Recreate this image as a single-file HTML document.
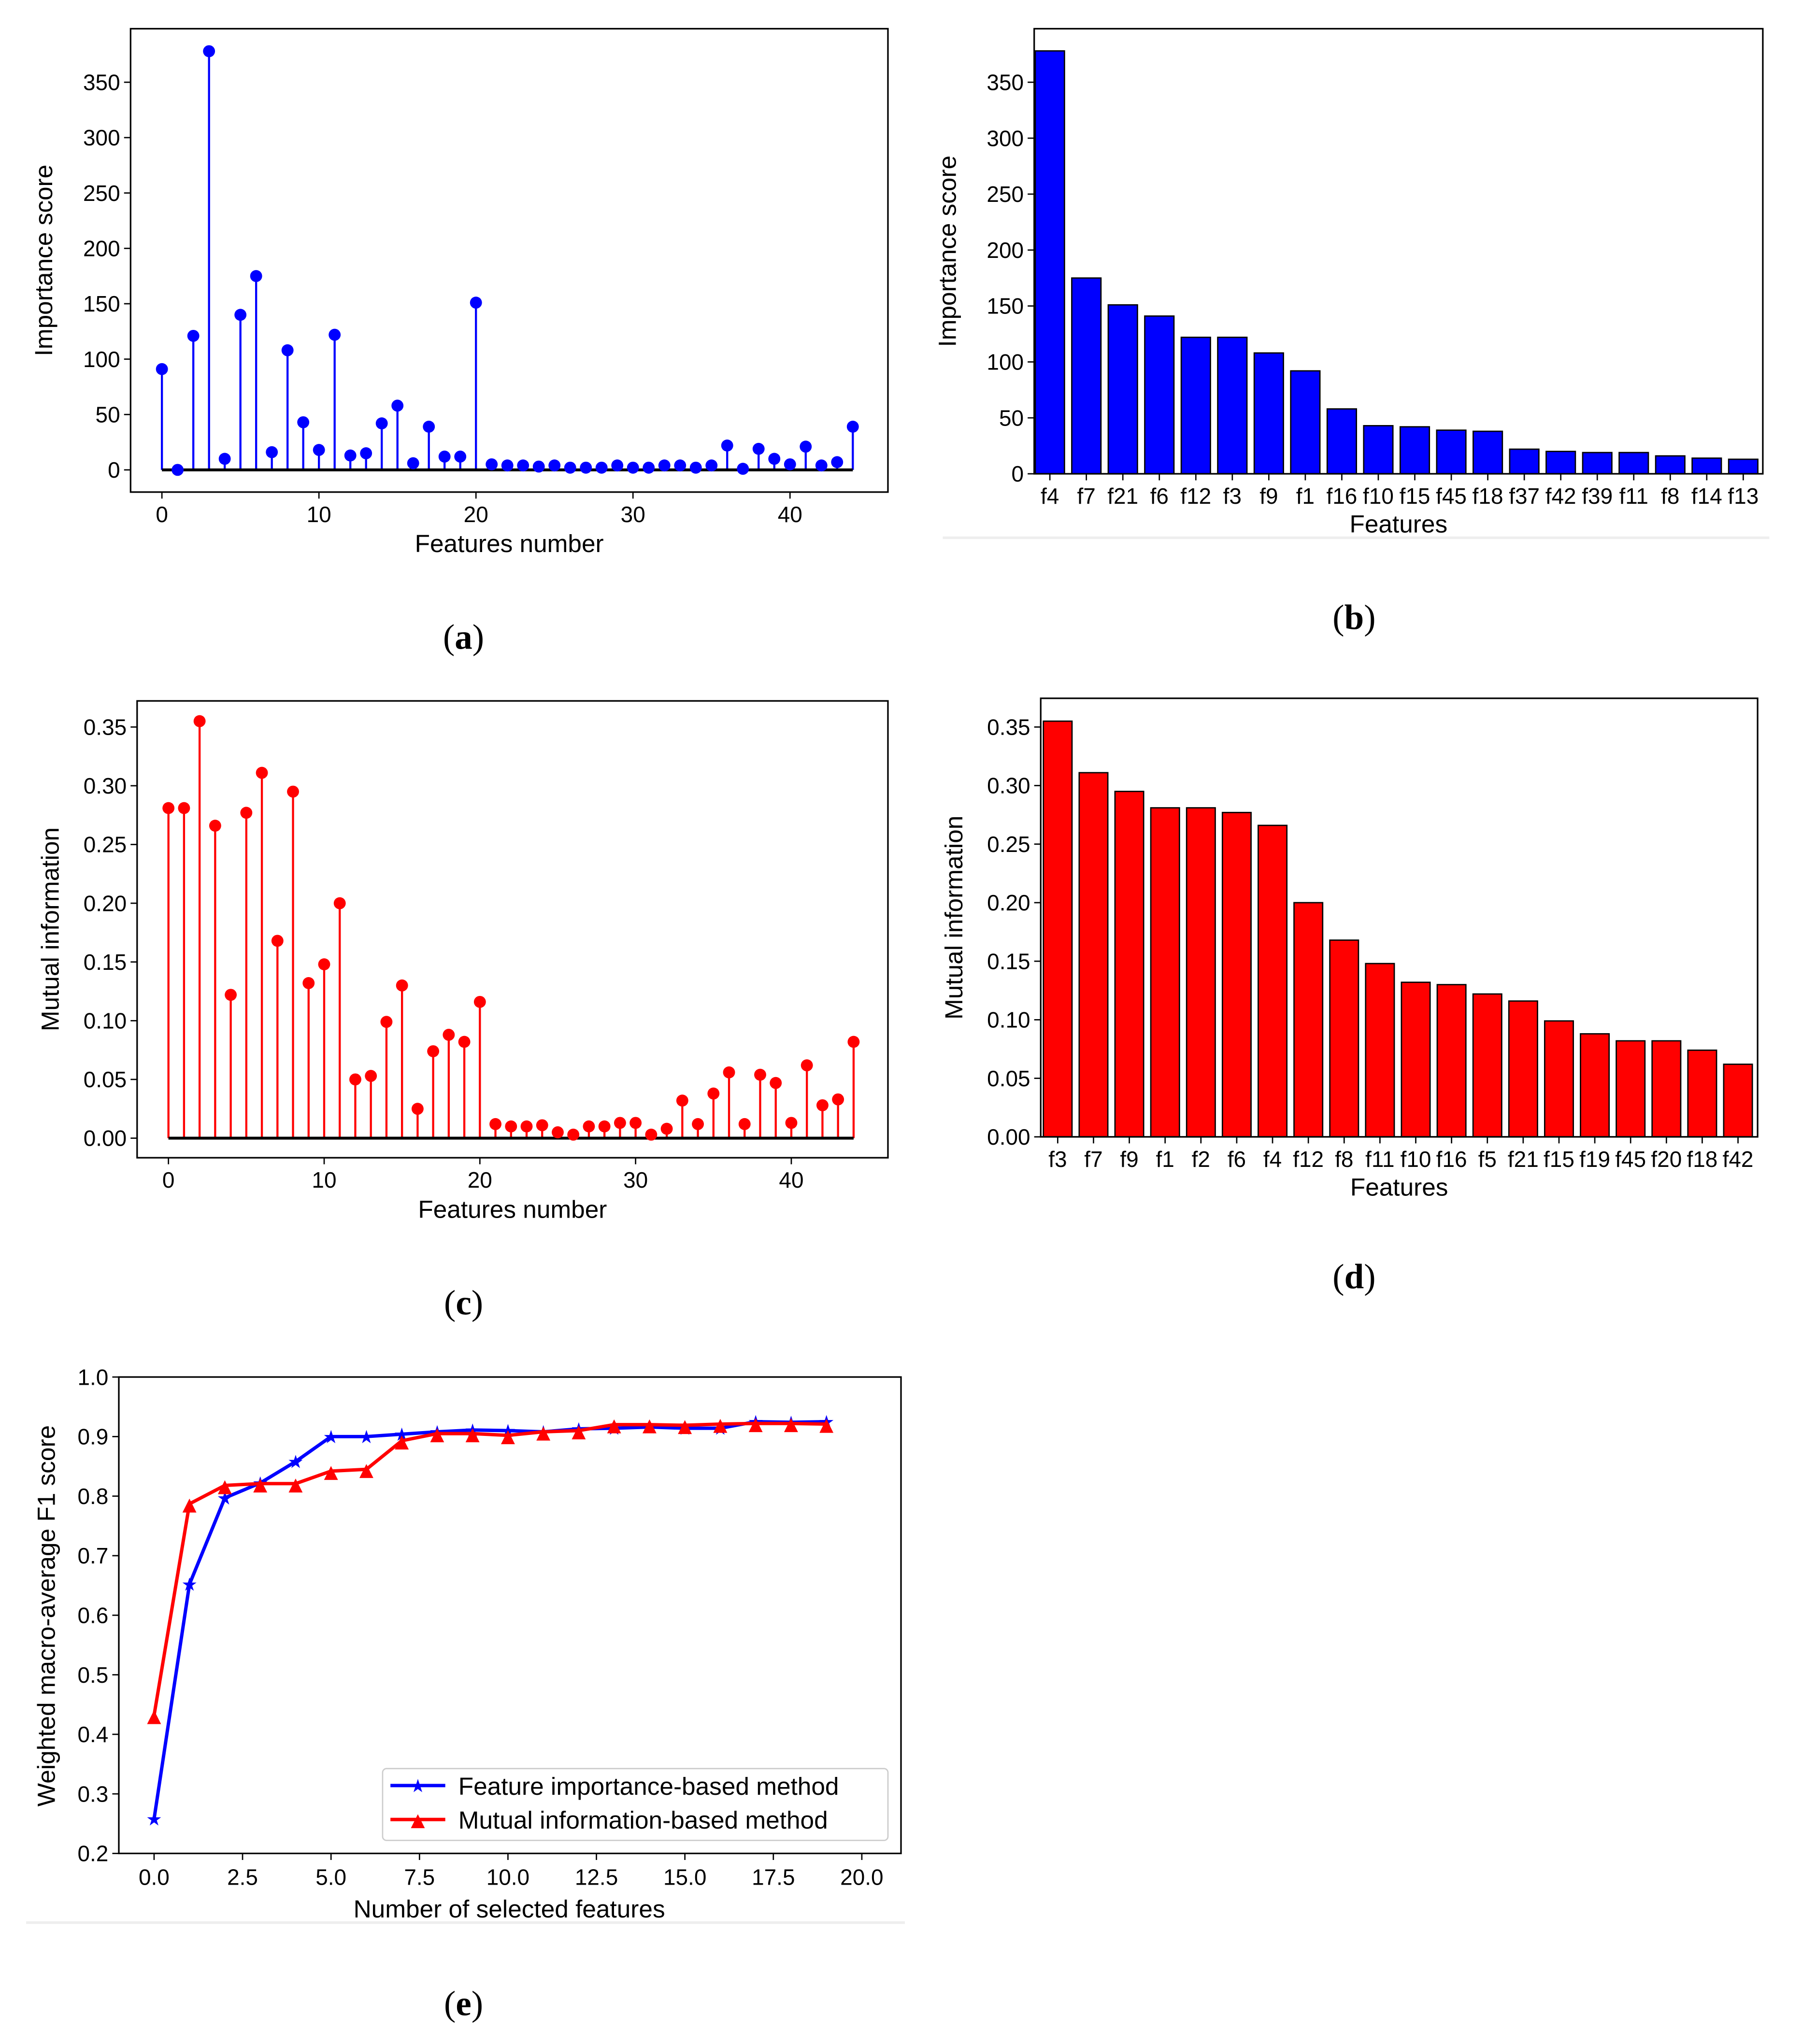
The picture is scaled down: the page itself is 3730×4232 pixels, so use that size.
<!DOCTYPE html>
<html><head><meta charset="utf-8">
<style>
html,body{margin:0;padding:0;background:#fff;}
svg{display:block;}
text{font-family:"Liberation Sans Narrow","Liberation Sans",sans-serif;fill:#000;}
.tk{font-size:17px;}
.ttl{font-family:"Liberation Sans",sans-serif;font-size:19px;}
.lbl{font-family:"Liberation Serif",serif;font-size:27px;}
</style></head>
<body>
<svg id="fig" width="3730" height="4232" viewBox="0 0 1380 1566" preserveAspectRatio="none" xmlns="http://www.w3.org/2000/svg"></svg>
<script>
const aValues=[91,0,121,378,10,140,175,16,108,43,18,122,13,15,42,58,6,39,12,12,151,5,4,4,3,4,2,2,2,4,2,2,4,4,2,4,22,1,19,10,5,21,4,7,39];
const bCats=["f4","f7","f21","f6","f12","f3","f9","f1","f16","f10","f15","f45","f18","f37","f42","f39","f11","f8","f14","f13"];
const bValues=[378,175,151,141,122,122,108,92,58,43,42,39,38,22,20,19,19,16,14,13];
const cValues=[.281,.281,.355,.266,.122,.277,.311,.168,.295,.132,.148,.200,.050,.053,.099,.130,.025,.074,.088,.082,.116,.012,.010,.010,.011,.005,.003,.010,.010,.013,.013,.003,.008,.032,.012,.038,.056,.012,.054,.047,.013,.062,.028,.033,.082];
const dCats=["f3","f7","f9","f1","f2","f6","f4","f12","f8","f11","f10","f16","f5","f21","f15","f19","f45","f20","f18","f42"];
const dValues=[.355,.311,.295,.281,.281,.277,.266,.200,.168,.148,.132,.130,.122,.116,.099,.088,.082,.082,.074,.062];
const eBlue=[.258,.652,.797,.822,.858,.900,.900,.904,.908,.911,.910,.908,.913,.914,.916,.914,.914,.925,.924,.925];
const eRed=[.432,.787,.818,.821,.821,.842,.845,.893,.905,.905,.902,.908,.910,.920,.920,.919,.921,.922,.922,.921];
const aYTicks=[0,50,100,150,200,250,300,350];
const cYTicks=[0,.05,.10,.15,.20,.25,.30,.35];
const stemXTicks=[0,10,20,30,40];
const eYTicks=[.2,.3,.4,.5,.6,.7,.8,.9,1.0];
const eXTicks=[0,2.5,5,7.5,10,12.5,15,17.5,20];

const NS="http://www.w3.org/2000/svg";
const svg=document.getElementById('fig');
function el(tag,attrs,parent,txt){const e=document.createElementNS(NS,tag);for(const k in attrs)e.setAttribute(k,attrs[k]);if(txt!==undefined)e.textContent=txt;(parent||svg).appendChild(e);return e;}
function lin(d0,d1,r0,r1){return v=>r0+(v-d0)*(r1-r0)/(d1-d0);}

function frame(g,x0,y0,x1,y1){const r=el('rect',{x:x0,y:y0,width:x1-x0,height:y1-y0,fill:'none',stroke:'#000','stroke-width':1.2},g);

}
function yticks(g,ticks,ys,xl,fmt){ticks.forEach(t=>{const y=ys(t);el('line',{x1:xl-5,x2:xl,y1:y,y2:y,stroke:'#000'},g);
const tx=el('text',{x:xl-8,y:y+6,'text-anchor':'end',class:'tk'},g,fmt(t));

});}
function xticks(g,ticks,xs,yb,ly,fmt){ticks.forEach(t=>{const x=xs(t);el('line',{x1:x,x2:x,y1:yb,y2:yb+5,stroke:'#000'},g);
const tx=el('text',{x:x,y:ly,'text-anchor':'middle',class:'tk'},g,fmt(t));

});}
function title(g,txt,x,y,rot,name){const t=el('text',{x:x,y:y,'text-anchor':'middle',class:'ttl',transform:rot?`rotate(-90 ${x} ${y})`:''},g,txt);

}
function panelLabel(letter,x,y,name){const t=el('text',{x:x,y:y,'text-anchor':'middle',class:'lbl'},svg);


el('tspan',{},t,'(');el('tspan',{'font-weight':'bold'},t,letter);el('tspan',{},t,')');}

function stem(name,vals,color,box,xr,yr,yt,fmt,ytitle){
 const g=el('g',{});
 
 
 const xs=lin(0,40,xr[0],xr[1]), ys=lin(0,yr[2],yr[0],yr[1]);
 frame(g,...box);
 yticks(g,yt,ys,box[0],fmt);
 xticks(g,stemXTicks,xs,box[3],box[3]+23,v=>v);
 vals.forEach((v,i)=>{const l=el('line',{x1:xs(i),x2:xs(i),y1:ys(0),y2:ys(v),stroke:color,'stroke-width':1.6},g);
  
  });
 el('line',{x1:xs(0),x2:xs(vals.length-1),y1:ys(0),y2:ys(0),stroke:'#000','stroke-width':2.2},g);
 vals.forEach((v,i)=>{const c=el('circle',{cx:xs(i),cy:ys(v),r:4.6,fill:color},g);
  
  });
 title(g,'Features number',(box[0]+box[2])/2,box[3]+46,false,'x-axis-title');
 title(g,ytitle,box[0]-60,(box[1]+box[3])/2,true,'y-axis-title');
}
function bars(name,cats,vals,color,box,xr,yr,yt,fmt,ytitle,gl){
 const g=el('g',{});
 
 
 const xs=lin(0,cats.length-1,xr[0],xr[1]), ys=lin(0,yr[2],yr[0],yr[1]);
 const w=(xr[1]-xr[0])/(cats.length-1)*0.8;
 vals.forEach((v,i)=>{const r=el('rect',{x:xs(i)-w/2,y:ys(v),width:w,height:ys(0)-ys(v),fill:color,stroke:'#000','stroke-width':1},g);
  
  });
 frame(g,...box);
 yticks(g,yt,ys,box[0],fmt);
 xticks(g,cats.map((c,i)=>i),xs,box[3],box[3]+23,i=>cats[i]);
 title(g,'Features',(box[0]+box[2])/2,box[3]+45,false,'x-axis-title');
 title(g,ytitle,box[0]-60,(box[1]+box[3])/2,true,'y-axis-title');
 if(gl){const l=el('line',{x1:gl[0],x2:gl[1],y1:gl[2],y2:gl[2],stroke:'#eee','stroke-width':2},svg);
  
  }
}
stem('chart-a-importance-stem',aValues,'#0000ff',[100,22,680,377],[124,605],[360,63,350],aYTicks,v=>v,'Importance score');
panelLabel('a',355,497,'panel-label-a');
bars('chart-b-importance-bars',bCats,bValues,'#0000ff',[792,22,1350,363],[804,1335],[363,63,350],aYTicks,v=>v,'Importance score',[722,1355,412]);
panelLabel('b',1037,482,'panel-label-b');
stem('chart-c-mutual-info-stem',cValues,'#ff0000',[105,537,680,887],[129,606],[872,557,.35],cYTicks,v=>v.toFixed(2),'Mutual information');
panelLabel('c',355,1007,'panel-label-c');
bars('chart-d-mutual-info-bars',dCats,dValues,'#ff0000',[797,535,1346,871],[810,1331],[871,557,.35],cYTicks,v=>v.toFixed(2),'Mutual information',null);
panelLabel('d',1037,987,'panel-label-d');

(function(){
 const g=el('g',{});
 
 
 const box=[91,1055,690,1420];
 const xs=lin(0,20,118,660), ys=lin(.2,1.0,1420,1055);
 frame(g,...box);
 yticks(g,eYTicks,ys,box[0],v=>v.toFixed(1));
 xticks(g,eXTicks,xs,box[3],box[3]+24,v=>v.toFixed(1));
 title(g,'Number of selected features',390,1469,false,'x-axis-title');
 title(g,'Weighted macro-average F1 score',42,1238,true,'y-axis-title');
 function series(vals,color,marker,name){
  const p=el('polyline',{points:vals.map((v,i)=>xs(i)+','+ys(v)).join(' '),fill:'none',stroke:color,'stroke-width':2.6},g);
  
  
  vals.forEach((v,i)=>{const m=el('text',{x:xs(i),y:ys(v)+(marker==='★'?5:5),'text-anchor':'middle',style:'font-size:14px;font-family:DejaVu Sans,sans-serif;fill:'+color},g,marker);
   
   });
 }
 series(eBlue,'#0000ff','★','feature-importance');
 series(eRed,'#ff0000','▲','mutual-information');
 const lg=el('g',{},g);
 
 
 el('rect',{x:293,y:1355,width:387,height:55,rx:3,fill:'#fff',stroke:'#ccc'},lg);
 el('line',{x1:299,x2:341,y1:1368,y2:1368,stroke:'#0000ff','stroke-width':2.6},lg);
 el('text',{x:320,y:1373,'text-anchor':'middle',style:'font-size:14px;font-family:DejaVu Sans,sans-serif;fill:#0000ff'},lg,'★');
 el('line',{x1:299,x2:341,y1:1394,y2:1394,stroke:'#ff0000','stroke-width':2.6},lg);
 el('text',{x:320,y:1399,'text-anchor':'middle',style:'font-size:14px;font-family:DejaVu Sans,sans-serif;fill:#ff0000'},lg,'▲');
 const t1=el('text',{x:351,y:1375,class:'tk',style:'font-size:19px'},lg,'Feature importance-based method');
 
 
 const t2=el('text',{x:351,y:1401,class:'tk',style:'font-size:19px'},lg,'Mutual information-based method');
 
 
 const l=el('line',{x1:20,x2:693,y1:1473,y2:1473,stroke:'#eee','stroke-width':2},svg);
 
 
})();
panelLabel('e',355,1544,'panel-label-e');
</script>
</body></html>
